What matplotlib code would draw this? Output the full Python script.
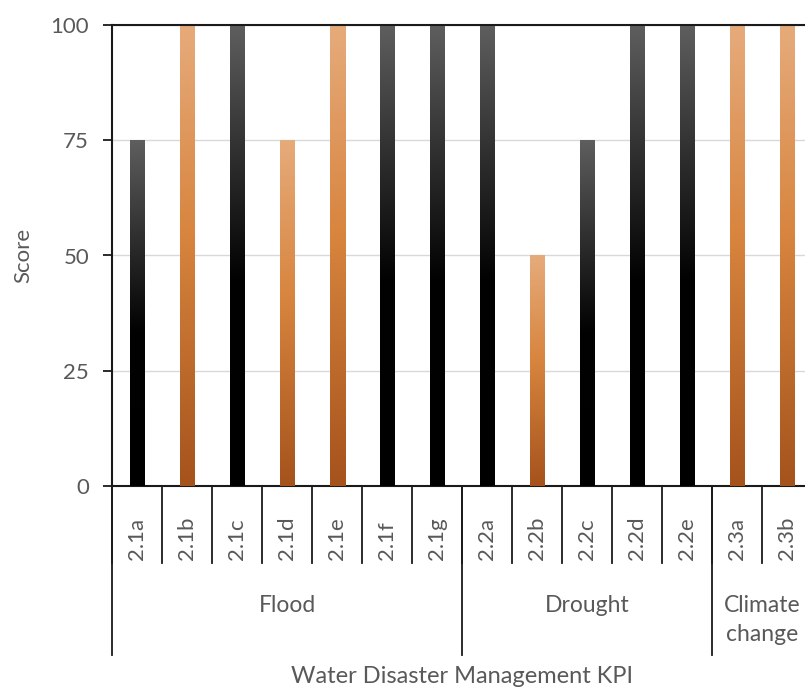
import matplotlib
matplotlib.use('Agg')
import matplotlib.pyplot as plt
import numpy as np
from matplotlib.colors import LinearSegmentedColormap

plt.rcParams['font.family'] = ['Lato', 'DejaVu Sans']

kpis = ['2.1a', '2.1b', '2.1c', '2.1d', '2.1e', '2.1f', '2.1g',
        '2.2a', '2.2b', '2.2c', '2.2d', '2.2e', '2.3a', '2.3b']
scores = [75, 100, 100, 75, 100, 100, 100, 100, 50, 75, 100, 100, 100, 100]
shade = ['k', 'o', 'k', 'o', 'o', 'k', 'k', 'k', 'o', 'k', 'k', 'k', 'o', 'o']
groups = ['Flood', 'Drought', 'Climate\nchange']
group_sizes = [7, 5, 2]

text_col = '#595959'
line_col = '#1a1a1a'

# vertical gradients, top -> bottom
cmaps = {
    'k': LinearSegmentedColormap.from_list('dark', [(0, '#5e5e5e'), (0.55, '#020202'), (1, '#000000')]),
    'o': LinearSegmentedColormap.from_list('copper', [(0, '#e6ab7b'), (0.45, '#d8853f'), (1, '#a5531c')]),
}

fig = plt.figure(figsize=(8.05, 6.89), dpi=100)
ax = fig.add_axes([112 / 805, 203 / 689, 700 / 805, 461 / 689])

x = np.arange(len(kpis))
bars = ax.bar(x, scores, width=0.3, color='none', zorder=3)
grad = np.linspace(0, 1, 256).reshape(-1, 1)
for b, s in zip(bars, shade):
    x0, w, h = b.get_x(), b.get_width(), b.get_height()
    ax.imshow(grad, cmap=cmaps[s], aspect='auto', origin='upper',
              extent=(x0, x0 + w, 0, h), zorder=3, interpolation='bilinear')

ax.set_xlim(-0.5, len(kpis) - 0.5)
ax.set_ylim(0, 100)
ax.set_yticks([0, 25, 50, 75, 100])
ax.yaxis.grid(True, color='#d9d9d9', linewidth=1)
ax.set_axisbelow(True)
ax.axhline(100, color=line_col, linewidth=1.5, zorder=4, clip_on=False)

for side in ['right', 'top']:
    ax.spines[side].set_visible(False)
for side in ['left', 'bottom']:
    ax.spines[side].set_color(line_col)
    ax.spines[side].set_linewidth(1.5)
ax.tick_params(axis='y', direction='out', length=6.5, width=1.3, color=line_col,
               labelsize=16, labelcolor=text_col, pad=10)

# category boxes below the axis
ax.set_xticks([])
tr = ax.get_xaxis_transform()
for xi, lab in zip(x, kpis):
    ax.text(xi, -0.16, lab, transform=tr, rotation=90, ha='center', va='bottom',
            fontsize=16, color=text_col)
for i in range(len(kpis) + 1):
    xb = i - 0.5
    ax.plot([xb, xb], [0, -0.167], transform=tr, color=line_col, lw=1.3, clip_on=False)

start = 0
for g, n in zip(groups, group_sizes):
    ax.plot([start - 0.5, start - 0.5], [0, -0.367], transform=tr, color=line_col,
            lw=1.3, clip_on=False)
    ax.text(start + (n - 1) / 2, -0.237, g, transform=tr, ha='center', va='top',
            fontsize=16.5, color=text_col, linespacing=1.45)
    start += n

ax.text(0.5, -0.414, 'Water Disaster Management KPI', transform=ax.transAxes,
        ha='center', va='center', fontsize=17, color=text_col)
ax.set_ylabel('Score', fontsize=16, color=text_col)
ax.yaxis.set_label_coords(-0.113, 0.5)

fig.savefig('out.png', dpi=100)
